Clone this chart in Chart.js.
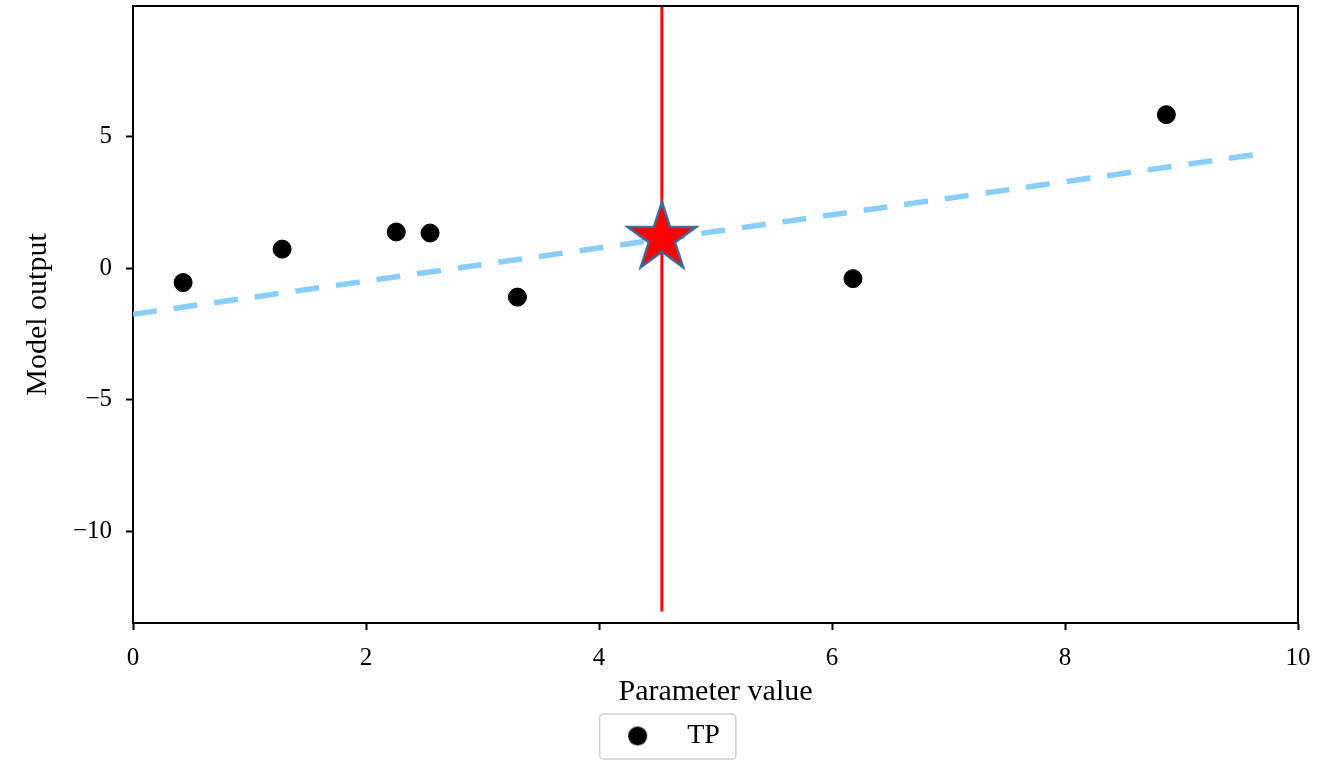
<!DOCTYPE html>
<html>
<head>
<meta charset="utf-8">
<script src="https://cdn.jsdelivr.net/npm/chart.js@4"></script>
<style>
  html, body { margin: 0; background: #fff; }
  #wrap { width: 1335px; height: 760px; }
</style>
</head>
<body>
<div id="wrap"><canvas id="chart"></canvas></div>
<script>
// data
const tpX = [0.43, 1.28, 2.26, 2.55, 3.30, 6.18, 8.87];
const tpY = [-0.55, 0.72, 1.37, 1.33, -1.10, -0.40, 5.82];
const fitX = [0, 9.69];
const fitY = [-1.75, 4.34];
const markX = 4.54;
const markY = 1.14;
const vlineY = [-13.02, 9.94];
const xTicks = [0, 2, 4, 6, 8, 10];
const yTicks = [-10, -5, 0, 5];

const FONT = "'Liberation Serif', serif";
const LEGEND_MARK_W = 71;

function starImage(r, fill, edge) {
  const c = document.createElement('canvas');
  const s = Math.ceil(r * 2 + 8);
  c.width = s; c.height = s;
  const g = c.getContext('2d');
  g.translate(s / 2, s / 2);
  g.beginPath();
  for (let i = 0; i < 10; i++) {
    const rr = i % 2 ? r * 0.382 : r;
    const a = -Math.PI / 2 + i * Math.PI / 5;
    g.lineTo(rr * Math.cos(a), rr * Math.sin(a));
  }
  g.closePath();
  g.fillStyle = fill;
  g.fill();
  g.lineWidth = 2.5;
  g.strokeStyle = edge;
  g.stroke();
  return c;
}

function dotImage(r) {
  const c = document.createElement('canvas');
  c.width = c.height = Math.ceil(r * 2 + 2);
  const g = c.getContext('2d');
  g.beginPath();
  g.arc(c.width / 2, c.height / 2, r, 0, Math.PI * 2);
  g.fillStyle = '#000';
  g.fill();
  return c;
}

const framePlugin = {
  id: 'frame',
  afterLayout(chart) {
    // matplotlib centres the legend under the axes, not the whole canvas
    const lg = chart.legend;
    lg.left += 12;
    lg.right += 12;
  },
  afterDraw(chart) {
    const ctx = chart.ctx, a = chart.chartArea;
    ctx.save();
    ctx.strokeStyle = '#000';
    ctx.lineWidth = 2;
    ctx.beginPath();
    ctx.moveTo(a.left, a.top);
    ctx.lineTo(a.right, a.top);
    ctx.lineTo(a.right, a.bottom);
    ctx.stroke();
    // legend box
    const hb = chart.legend.legendHitBoxes[0];
    if (hb) {
      const cx = hb.left + LEGEND_MARK_W / 2;
      const cy = hb.top + hb.height / 2;
      const left = cx - 38, right = hb.left + hb.width + 16;
      ctx.strokeStyle = '#d0d0d0';
      ctx.lineWidth = 1.5;
      ctx.beginPath();
      ctx.roundRect(left, cy - 22, right - left, 45, 4);
      ctx.stroke();
    }
    ctx.restore();
  }
};

const noPad = s => { s.paddingTop = 0; s.paddingBottom = 0; s.paddingLeft = 0; s.paddingRight = 0; };

new Chart(document.getElementById('chart'), {
  type: 'scatter',
  data: {
    datasets: [
      {
        label: 'TP',
        data: tpX.map((x, i) => ({ x: x, y: tpY[i] })),
        backgroundColor: '#000',
        borderColor: '#000',
        pointRadius: 9,
        order: 1
      },
      {
        label: 'fit',
        type: 'line',
        data: fitX.map((x, i) => ({ x: x, y: fitY[i] })),
        borderColor: '#87cefa',
        borderWidth: 5.5,
        borderDash: [24, 17],
        pointRadius: 0,
        order: 3
      },
      {
        label: 'vline',
        type: 'line',
        data: vlineY.map(y => ({ x: markX, y: y })),
        borderColor: '#ff0000',
        borderWidth: 3,
        pointRadius: 0,
        order: 2
      },
      {
        label: 'best',
        data: [{ x: markX, y: markY }],
        pointStyle: starImage(36, '#ff0000', '#3d6a96'),
        order: 0
      }
    ]
  },
  options: {
    responsive: true,
    maintainAspectRatio: false,
    animation: false,
    layout: { autoPadding: false, padding: { left: 0, top: 6, right: 37, bottom: 0 } },
    plugins: {
      tooltip: { enabled: false },
      legend: {
        position: 'bottom',
        labels: {
          filter: item => item.text === 'TP',
          usePointStyle: true,
          pointStyle: dotImage(9.5),
          pointStyleWidth: LEGEND_MARK_W,
          boxHeight: 20,
          padding: 12,
          color: '#000',
          font: { family: FONT, size: 28 }
        }
      }
    },
    scales: {
      x: {
        type: 'linear',
        min: 0,
        max: 10,
        afterBuildTicks: s => { s.ticks = xTicks.map(v => ({ value: v })); },
        afterFit: s => { s.height = 87; noPad(s); },
        border: { color: '#000', width: 2 },
        grid: { drawOnChartArea: false, tickLength: 7, tickColor: '#000', tickWidth: 2 },
        ticks: { color: '#000', font: { family: FONT, size: 25 }, padding: 13, maxRotation: 0 },
        title: { display: true, text: 'Parameter value', color: '#000', font: { family: FONT, size: 30 }, padding: { top: 0, bottom: 0 } }
      },
      y: {
        type: 'linear',
        min: -13.46,
        max: 9.94,
        afterBuildTicks: s => { s.ticks = yTicks.map(v => ({ value: v })); },
        afterFit: s => { s.width = 133; noPad(s); },
        border: { color: '#000', width: 2 },
        grid: { drawOnChartArea: false, tickLength: 7, tickColor: '#000', tickWidth: 2 },
        ticks: {
          color: '#000', font: { family: FONT, size: 25 }, padding: 14,
          callback: v => (v < 0 ? '\u2212' + Math.abs(v) : '' + v)
        },
        title: { display: true, text: 'Model output', color: '#000', font: { family: FONT, size: 30 }, padding: { top: 20, bottom: 0 } }
      }
    }
  },
  plugins: [framePlugin]
});
</script>
</body>
</html>
